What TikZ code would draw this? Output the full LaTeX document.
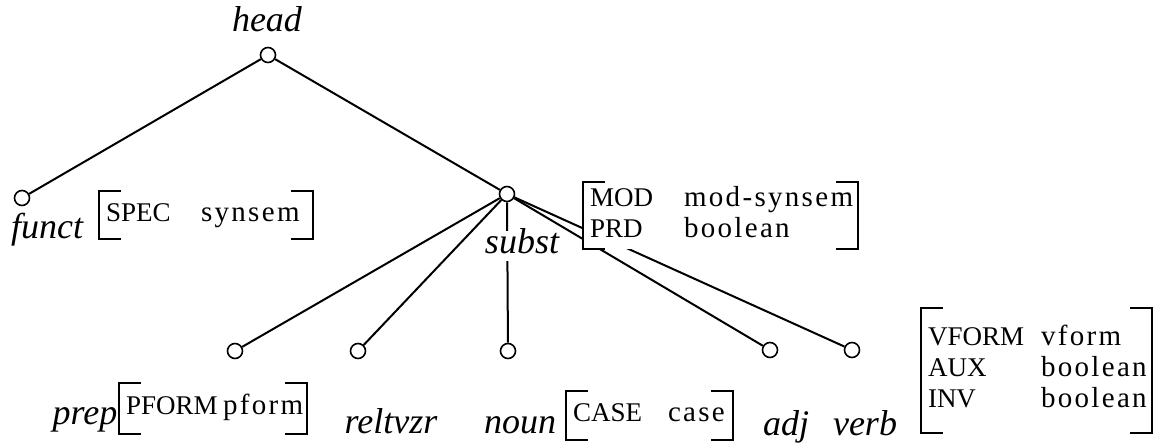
\documentclass[tikz,border=0pt]{standalone}
\usepackage{fontspec}
\setmainfont{Liberation Serif}
\newfontfamily\valfont{Liberation Serif}[LetterSpace=8]
\usepackage{tikz}
\usetikzlibrary{positioning}
\tikzstyle{sort} = [circle, draw=black, fill=white, line width=0.8pt, inner sep=0pt, minimum size=7.5pt]
\tikzstyle{sortname} = [anchor=base, inner sep=0pt, font=\fontsize{18}{20}\selectfont\itshape]
\tikzstyle{avm} = [rectangle, fill=white, inner xsep=3.5pt, inner ysep=0pt, align=left, font=\valfont\fontsize{14.5}{15.5}\selectfont]
\tikzstyle{line} = [line width=1pt]
\newcommand{\feat}[1]{{\rmfamily\fontsize{13.5}{15.5}\selectfont #1}}
\newcommand{\avmbrackets}[1]{%
  \draw[line] ([xshift=11pt]#1.north west) -- (#1.north west) -- (#1.south west) -- ([xshift=11pt]#1.south west);
  \draw[line] ([xshift=-11pt]#1.north east) -- (#1.north east) -- (#1.south east) -- ([xshift=-11pt]#1.south east);}

\begin{document}
\begin{tikzpicture}[x=0.5pt, y=-0.5pt]
    \useasboundingbox (0,0) rectangle (1156,444);
    % sorts
    \node(head)[sort] at (268,55) {};
    \node(funct)[sort] at (22,198) {};
    \node(subst)[sort] at (507,194) {};
    \node(prep)[sort] at (235,351) {};
    \node(reltvzr)[sort] at (358,351) {};
    \node(noun)[sort] at (508,351) {};
    \node(adj)[sort] at (770,350) {};
    \node(verb)[sort] at (852,350) {};
    \draw[line](head)--(funct);
    \draw[line](head)--(subst);
    \draw[line](subst)--(prep);
    \draw[line](subst)--(reltvzr);
    \draw[line](subst)--(noun);
    \draw[line](subst)--(adj);
    \draw[line](subst)--(verb);
    % sort names
    \node(headname)[sortname] at (267,32) {head};
    \node(functname)[sortname] at (47,238) {funct};
    \node(substname)[sortname, fill=white, text height=11pt, text depth=4pt] at (522,253) {subst};
    \node(prepname)[sortname] at (85,424) {prep};
    \node(reltvzrname)[sortname] at (391,433) {reltvzr};
    \node(nounname)[sortname] at (520,433) {noun};
    \node(adjname)[sortname] at (786,435) {adj};
    \node(verbname)[sortname] at (865,435) {verb};
    % feature structures
    \node(functavm)[avm, text width=100pt, minimum height=24pt] at (206,215)
        {\begin{tabular}{@{}p{47.5pt}@{}l@{}}\feat{SPEC} & synsem\end{tabular}};
    \node(substavm)[avm, text width=130.5pt, minimum height=33.5pt] at (720.5,215.5)
        {\begin{tabular}{@{}p{47pt}@{}l@{}}\feat{MOD} & mod-synsem\\\feat{PRD} & boolean\end{tabular}};
    \node(prepavm)[avm, text width=87pt, minimum height=25.5pt] at (213,408.5)
        {\begin{tabular}{@{}p{48.5pt}@{}l@{}}\feat{PFORM} & pform\end{tabular}};
    \node(nounavm)[avm, text width=76.5pt, minimum height=24.5pt] at (649.5,415.5)
        {\begin{tabular}{@{}p{47.5pt}@{}l@{}}\feat{CASE} & case\end{tabular}};
    \node(verbavm)[avm, text width=108.5pt, minimum height=62.5pt] at (1036.5,370.5)
        {\begin{tabular}{@{}p{56.5pt}@{}l@{}}\feat{VFORM} & vform\\\feat{AUX} & boolean\\\feat{INV} & boolean\end{tabular}};
    \avmbrackets{functavm}
    \avmbrackets{substavm}
    \avmbrackets{prepavm}
    \avmbrackets{nounavm}
    \avmbrackets{verbavm}
  \end{tikzpicture}
\end{document}
